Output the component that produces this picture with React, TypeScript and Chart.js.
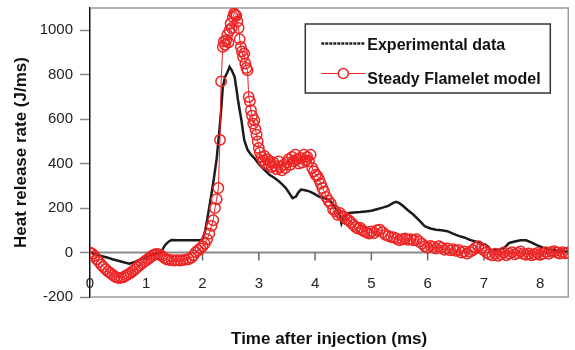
import React, { useEffect, useRef } from "react";
import { Chart, registerables } from "chart.js";

Chart.register(...registerables);

const FONT = '"Liberation Sans", Arial, Helvetica, sans-serif';
const RED = "rgb(238, 36, 36)";

const seriesNames = ["Experimental data", "Steady Flamelet model"];
const xTickValues = [0, 1, 2, 3, 4, 5, 6, 7, 8];
const xTickLabels = ["0", "1", "2", "3", "4", "5", "6", "7", "8"];
const yTickValues = [-200, 0, 200, 400, 600, 800, 1000];
const yTickLabels = ["-200", "0", "200", "400", "600", "800", "1000"];

const expTime = [
  0, 0.1, 0.2, 0.3, 0.4, 0.5, 0.6, 0.7, 0.8, 0.9,
  1.0, 1.1, 1.2, 1.27, 1.33, 1.4, 1.45, 1.55, 1.65, 1.75,
  1.85, 1.95, 2.0, 2.05, 2.1, 2.15, 2.2, 2.25, 2.3, 2.33,
  2.36, 2.4, 2.44, 2.48, 2.52, 2.57, 2.6, 2.63, 2.66, 2.69,
  2.74, 2.8, 2.86, 2.92, 2.98, 3.04, 3.1, 3.19, 3.28, 3.36,
  3.42, 3.48, 3.54, 3.6, 3.66, 3.7, 3.75, 3.82, 3.9, 3.98,
  4.07, 4.16, 4.25, 4.3, 4.36, 4.43, 4.47, 4.52, 4.6, 4.7,
  4.8, 4.9, 5.0, 5.1, 5.2, 5.3, 5.38, 5.44, 5.5, 5.57,
  5.65, 5.75, 5.85, 5.95, 6.05, 6.15, 6.25, 6.35, 6.45, 6.55,
  6.65, 6.75, 6.85, 6.95, 7.02, 7.08, 7.12, 7.2, 7.3, 7.38,
  7.45, 7.55, 7.65, 7.75, 7.85, 7.95, 8.05, 8.15, 8.25, 8.35,
  8.45, 8.5,
];
const expHRR = [
  0, -8, -15, -22, -30, -37, -44, -50, -42, -30,
  -20, -10, -3, 5, 32, 50, 56, 55, 55, 55,
  55, 55, 60, 100, 175, 250, 330, 420, 550, 640,
  745, 790, 810, 835, 820, 790, 740, 686, 640, 596,
  507, 462, 440, 425, 405, 387, 372, 350, 335, 320,
  305, 290, 268, 245, 252, 270, 283, 280, 275, 265,
  252, 245, 238, 223, 200, 178, 130, 160, 178, 180,
  182, 185, 188, 195, 202, 210, 222, 228, 222, 208,
  190, 170, 145, 118, 108, 103, 100, 96, 85, 75,
  68, 57, 50, 40, 36, 25, 10, 12, 14, 25,
  43, 50, 55, 55, 45, 32, 22, 15, 12, 8,
  5, 5,
];

const sfmTime = [
  0, 0.04, 0.08, 0.12, 0.16, 0.2, 0.24, 0.28, 0.32, 0.36,
  0.4, 0.44, 0.48, 0.52, 0.56, 0.6, 0.64, 0.68, 0.72, 0.76,
  0.8, 0.84, 0.88, 0.92, 0.96, 1.0, 1.04, 1.08, 1.12, 1.16,
  1.2, 1.24, 1.28, 1.32, 1.36, 1.4, 1.45, 1.5, 1.55, 1.6,
  1.65, 1.7, 1.75, 1.8, 1.84, 1.88, 1.92, 1.96, 2.0, 2.04,
  2.08, 2.12, 2.16, 2.19, 2.22, 2.25, 2.28, 2.31, 2.33, 2.36,
  2.38, 2.4, 2.42, 2.44, 2.46, 2.48, 2.5, 2.52, 2.54, 2.56,
  2.58, 2.6, 2.62, 2.64, 2.66, 2.68, 2.7, 2.72, 2.74, 2.76,
  2.78, 2.8, 2.82, 2.84, 2.86, 2.88, 2.9, 2.92, 2.94, 2.96,
  2.98, 3.0, 3.02, 3.05, 3.08, 3.1, 3.12, 3.15, 3.18, 3.2,
  3.23, 3.26, 3.29, 3.32, 3.35, 3.38, 3.41, 3.44, 3.47, 3.5,
  3.53, 3.56, 3.59, 3.62, 3.65, 3.68, 3.71, 3.74, 3.77, 3.8,
  3.83, 3.86, 3.89, 3.92, 3.95, 3.98, 4.01, 4.04, 4.07, 4.1,
  4.13, 4.16, 4.2, 4.24, 4.28, 4.32, 4.36, 4.4, 4.44, 4.48,
  4.52, 4.56, 4.6, 4.64, 4.68, 4.72, 4.76, 4.8, 4.84, 4.88,
  4.92, 4.96, 5.0, 5.05, 5.1, 5.15, 5.2, 5.25, 5.3, 5.35,
  5.4, 5.45, 5.5, 5.55, 5.6, 5.65, 5.7, 5.75, 5.8, 5.85,
  5.9, 5.95, 6.0, 6.05, 6.1, 6.15, 6.2, 6.25, 6.3, 6.35,
  6.4, 6.45, 6.5, 6.55, 6.6, 6.65, 6.7, 6.75, 6.8, 6.85,
  6.9, 6.95, 7.0, 7.05, 7.1, 7.15, 7.2, 7.25, 7.3, 7.35,
  7.4, 7.45, 7.5, 7.55, 7.6, 7.65, 7.7, 7.75, 7.8, 7.85,
  7.9, 7.95, 8.0, 8.05, 8.1, 8.15, 8.2, 8.25, 8.3, 8.35,
  8.4, 8.45, 8.5,
];
const sfmHRR = [
  0, -5, -15, -30, -42, -55, -65, -75, -85, -92,
  -100, -108, -112, -115, -113, -110, -104, -98, -92, -84,
  -75, -66, -58, -50, -42, -35, -28, -20, -12, -8,
  -6, -10, -16, -24, -30, -33, -35, -36, -35, -36,
  -34, -32, -30, -24, -12, 2, 10, 18, 28, 40,
  60, 85, 120, 145, 200, 240, 290, 507, 770, 925,
  950, 935, 955, 980, 945, 1000, 1030, 1010, 1060, 1075,
  1070, 1065, 1040, 1010, 960, 925, 905, 880, 895, 850,
  830, 820, 700, 680, 640, 615, 580, 595, 555, 530,
  500, 470, 450, 430, 415, 435, 400, 420, 395, 410,
  385, 405, 390, 375, 410, 385, 370, 395, 380, 405,
  420, 395, 430, 410, 440, 420, 400, 425, 405, 440,
  415, 430, 410, 440, 380, 365, 350, 345, 330, 310,
  290, 275, 250, 232, 220, 195, 185, 170, 178, 165,
  160, 150, 145, 135, 125, 115, 108, 112, 100, 95,
  90, 85, 95, 88, 100, 103, 92, 80, 75, 70,
  68, 62, 55, 60, 63, 57, 60, 55, 60, 50,
  40, 28, 22, 30, 25, 18, 28, 22, 12, 18,
  10, 15, 8, 12, 0, 5, -5, 3, 10, 22,
  28, 20, 10, 0, -8, -12, -5, -15, -8, 0,
  -12, -5, 2, -8, -2, 5, -6, -10, -4, -12,
  -8, -2, -10, -5, 2, -6, 3, 6, 0, -5,
  2, -3, 0,
];

const framePlugin = {
  id: "frameAndXAxis",
  beforeDatasetsDraw(chart: any) {
    const { ctx, chartArea: a, scales } = chart;
    const xs = scales.x;
    const ys = scales.y;
    const y0 = ys.getPixelForValue(0);
    ctx.save();
    ctx.strokeStyle = "#9a9a9a";
    ctx.lineWidth = 1.5;
    ctx.beginPath();
    ctx.moveTo(a.left, a.top);
    ctx.lineTo(a.right, a.top);
    ctx.lineTo(a.right, a.bottom);
    ctx.lineTo(a.left, a.bottom);
    ctx.stroke();
    ctx.strokeStyle = "#8a8a8a";
    ctx.lineWidth = 2;
    ctx.beginPath();
    ctx.moveTo(a.left, y0);
    ctx.lineTo(a.right, y0);
    ctx.stroke();
    ctx.strokeStyle = "#666";
    ctx.lineWidth = 1.5;
    ctx.fillStyle = "#222";
    ctx.font = `15px ${FONT}`;
    ctx.textAlign = "center";
    ctx.textBaseline = "middle";
    xTickValues.forEach((v, i) => {
      const px = xs.getPixelForValue(v);
      if (v > 0) {
        ctx.beginPath();
        ctx.moveTo(px, y0);
        ctx.lineTo(px, y0 + 8);
        ctx.stroke();
      }
      ctx.fillText(xTickLabels[i], px, y0 + 31);
    });
    ctx.restore();
  },
};

const legendPlugin = {
  id: "boxLegend",
  afterDraw(chart: any) {
    const { ctx, chartArea: a } = chart;
    const L = a.right - 263;
    const T = a.top + 16;
    const W = 245;
    const H = 69;
    ctx.save();
    ctx.fillStyle = "#fff";
    ctx.fillRect(L, T, W, H);
    ctx.strokeStyle = "#333";
    ctx.lineWidth = 1.5;
    ctx.strokeRect(L, T, W, H);
    const l1 = T + 19.5;
    const l2 = T + 49.5;
    ctx.strokeStyle = "#222";
    ctx.lineWidth = 2.5;
    ctx.setLineDash([3, 1]);
    ctx.beginPath();
    ctx.moveTo(L + 16, l1);
    ctx.lineTo(L + 60, l1);
    ctx.stroke();
    ctx.setLineDash([]);
    ctx.strokeStyle = RED;
    ctx.lineWidth = 1.2;
    ctx.beginPath();
    ctx.moveTo(L + 16, l2);
    ctx.lineTo(L + 60, l2);
    ctx.stroke();
    ctx.fillStyle = "#fff";
    ctx.lineWidth = 1.5;
    ctx.beginPath();
    ctx.arc(L + 38, l2, 5, 0, Math.PI * 2);
    ctx.fill();
    ctx.stroke();
    ctx.fillStyle = "#111";
    ctx.font = `bold 16px ${FONT}`;
    ctx.textAlign = "left";
    ctx.textBaseline = "alphabetic";
    ctx.fillText(seriesNames[0], L + 62, T + 25.5);
    ctx.fillText(seriesNames[1], L + 62, T + 59.5);
    ctx.restore();
  },
};

export default function App() {
  const ref = useRef<HTMLCanvasElement | null>(null);

  useEffect(() => {
    document.body.style.margin = "0";
    if (!ref.current) return;
    const expData = expTime.map((t, i) => ({ x: t, y: expHRR[i] }));
    const sfmData = sfmTime.map((t, i) => ({ x: t, y: sfmHRR[i] }));
    const chart = new Chart(ref.current, {
      type: "line",
      data: {
        datasets: [
          {
            label: seriesNames[1],
            data: sfmData,
            borderColor: RED,
            borderWidth: 1,
            pointRadius: 5.2,
            pointBorderWidth: 1.5,
            pointBorderColor: RED,
            pointBackgroundColor: "rgba(0,0,0,0)",
            tension: 0,
            order: 0,
          },
          {
            label: seriesNames[0],
            data: expData,
            borderColor: "#1c1c1c",
            borderWidth: 2.5,
            pointRadius: 0,
            tension: 0,
            order: 1,
          },
        ],
      },
      options: {
        animation: false,
        responsive: false,
        events: [],
        layout: { padding: { top: 8, right: 5, left: 0, bottom: 0 } },
        plugins: {
          legend: { display: false },
          tooltip: { enabled: false },
        },
        scales: {
          x: {
            type: "linear",
            min: 0,
            max: 8.5,
            ticks: { display: false },
            grid: { display: false },
            border: { display: false },
            title: {
              display: true,
              text: "Time after injection (ms)",
              color: "#111",
              font: { family: FONT, size: 17, weight: "bold" },
              padding: { top: 0, bottom: 0 },
            },
            afterFit: (s: any) => {
              s.height = 53;
              s.paddingLeft = 0;
              s.paddingRight = 0;
            },
          },
          y: {
            type: "linear",
            min: -200,
            max: 1100,
            afterBuildTicks: (s: any) => {
              s.ticks = yTickValues.map((v) => ({ value: v }));
            },
            ticks: {
              color: "#222",
              font: { family: FONT, size: 15 },
              padding: 7,
              callback: (_v: any, i: number) => yTickLabels[i],
            },
            grid: {
              drawOnChartArea: false,
              drawTicks: true,
              tickLength: 10,
              tickColor: "#888",
              tickWidth: 1.5,
            },
            border: { color: "#111", width: 1.5 },
            title: {
              display: true,
              text: "Heat release rate (J/ms)",
              color: "#111",
              font: { family: FONT, size: 17, weight: "bold" },
              padding: { top: 11, bottom: 0 },
            },
            afterFit: (s: any) => {
              s.width = 90;
              s.paddingTop = 0;
              s.paddingBottom = 0;
            },
          },
        },
      },
      plugins: [framePlugin, legendPlugin],
    } as any);
    return () => chart.destroy();
  }, []);

  return (
    <div style={{ width: 575, height: 350 }}>
      <canvas ref={ref} width={575} height={350} style={{ display: "block" }} />
    </div>
  );
}
